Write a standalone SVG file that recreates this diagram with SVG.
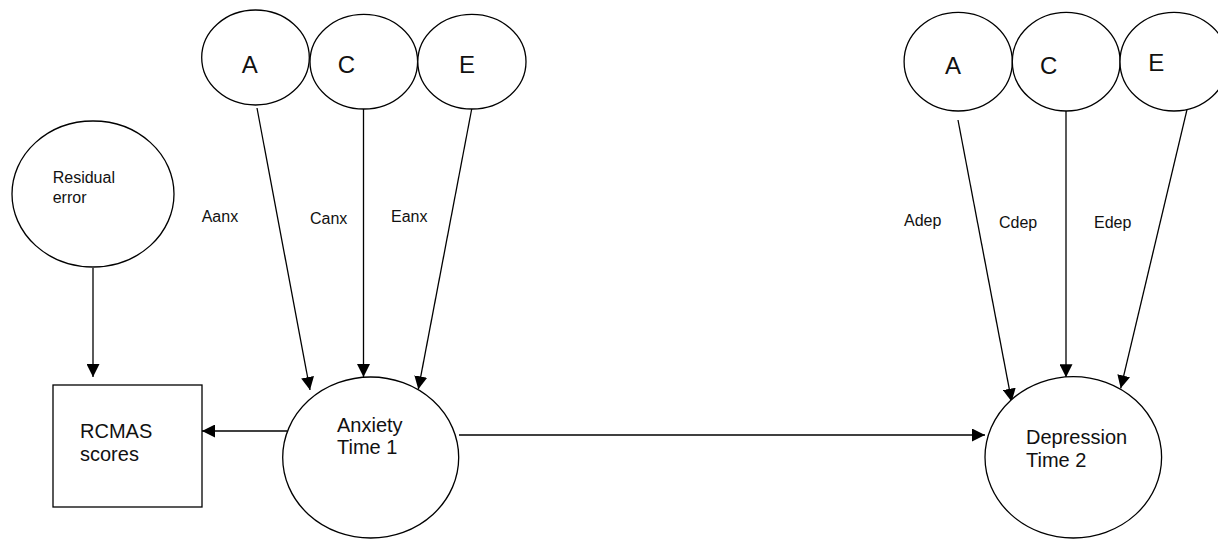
<svg xmlns="http://www.w3.org/2000/svg" width="1218" height="539" viewBox="0 0 1218 539">
<defs>
<style>
.n{fill:#fff;stroke:#000;stroke-width:1.3}
.e{stroke:#000;stroke-width:1.3;fill:none}
.t{font-family:"Liberation Sans",Arial,sans-serif;fill:#111}
.big{font-size:20px}
.lg{font-size:24px}
.sm{font-size:16px}
</style>
<marker id="ah" viewBox="0 0 13 13" refX="13" refY="6.5" markerWidth="13" markerHeight="13" markerUnits="userSpaceOnUse" orient="auto">
<path d="M0,0 L13,6.5 L0,13 Z" fill="#000"/>
</marker>
</defs>
<rect width="1218" height="539" fill="#fff"/>
<g id="connectors">
<line class="e" x1="93" y1="268" x2="93" y2="377" marker-end="url(#ah)"/>
<line class="e" x1="287" y1="431" x2="202" y2="431" marker-end="url(#ah)"/>
<line class="e" x1="459" y1="435" x2="985" y2="435" marker-end="url(#ah)"/>
<line class="e" x1="257" y1="108" x2="310" y2="390" marker-end="url(#ah)"/>
<line class="e" x1="363.5" y1="109" x2="363.5" y2="377" marker-end="url(#ah)"/>
<line class="e" x1="471.7" y1="109" x2="418.3" y2="389.3" marker-end="url(#ah)"/>
<line class="e" x1="958" y1="120" x2="1011.7" y2="401.7" marker-end="url(#ah)"/>
<line class="e" x1="1066" y1="111" x2="1066" y2="377.3" marker-end="url(#ah)"/>
<line class="e" x1="1187.7" y1="106.7" x2="1120.7" y2="388.3" marker-end="url(#ah)"/>
<text class="t sm" x="201.7" y="221.7">Aanx</text>
<text class="t sm" x="310" y="224">Canx</text>
<text class="t sm" x="391" y="221.7">Eanx</text>
<text class="t sm" x="904" y="226">Adep</text>
<text class="t sm" x="999" y="227.7">Cdep</text>
<text class="t sm" x="1094" y="227.7">Edep</text>
</g>
<g id="residual">
<ellipse class="n" cx="93" cy="194" rx="81" ry="73"/>
<text class="t sm" x="52.7" y="182.7">Residual</text>
<text class="t sm" x="52.7" y="202.7">error</text>
</g>
<g id="rcmas">
<rect class="n" x="53" y="385" width="149" height="122"/>
<text class="t big" x="80" y="438">RCMAS</text>
<text class="t big" x="80" y="461">scores</text>
</g>
<g id="anxiety">
<ellipse class="n" cx="370.7" cy="457.5" rx="88" ry="80.5"/>
<text class="t big" x="337" y="432">Anxiety</text>
<text class="t big" x="337" y="454">Time 1</text>
</g>
<g id="depression">
<ellipse class="n" cx="1073.3" cy="457.3" rx="88.3" ry="80.7"/>
<text class="t big" x="1026" y="444">Depression</text>
<text class="t big" x="1026" y="466.7">Time 2</text>
</g>
<g id="A1">
<ellipse class="n" cx="255.5" cy="57.5" rx="53.8" ry="47.5"/>
<text class="t lg" x="241.7" y="72.7">A</text>
</g>
<g id="C1">
<ellipse class="n" cx="363.8" cy="61.7" rx="53.8" ry="47.3"/>
<text class="t lg" x="337.7" y="72.7">C</text>
</g>
<g id="E1">
<ellipse class="n" cx="471.9" cy="61.7" rx="54.1" ry="47.3"/>
<text class="t lg" x="459" y="72.7">E</text>
</g>
<g id="A2">
<ellipse class="n" cx="958.2" cy="61.7" rx="54.1" ry="49.3"/>
<text class="t lg" x="945" y="74">A</text>
</g>
<g id="C2">
<ellipse class="n" cx="1066.2" cy="61.7" rx="53.9" ry="49.3"/>
<text class="t lg" x="1040" y="74">C</text>
</g>
<g id="E2">
<ellipse class="n" cx="1174" cy="61.7" rx="54" ry="49.3"/>
<text class="t lg" x="1148.3" y="71">E</text>
</g>
</svg>
